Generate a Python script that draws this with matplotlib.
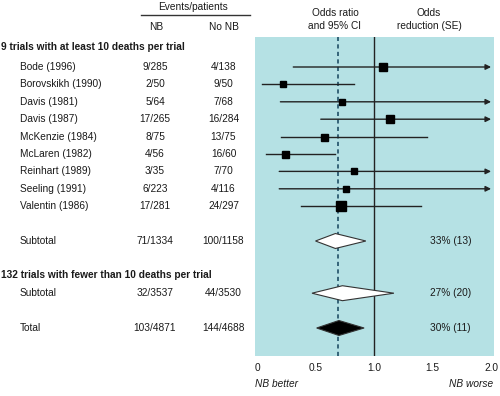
import matplotlib
matplotlib.use("Agg")
import matplotlib.pyplot as plt
from matplotlib.patches import Polygon
from matplotlib.transforms import blended_transform_factory

plt.rcParams['font.family'] = ['Liberation Sans', 'DejaVu Sans']

# ---- data ----
studies = ["Bode (1996)", "Borovskikh (1990)", "Davis (1981)", "Davis (1987)",
           "McKenzie (1984)", "McLaren (1982)", "Reinhart (1989)", "Seeling (1991)",
           "Valentin (1986)"]
nb_events = ["9/285", "2/50", "5/64", "17/265", "8/75", "4/56", "3/35", "6/223", "17/281"]
nonb_events = ["4/138", "9/50", "7/68", "16/284", "13/75", "16/60", "7/70", "4/116", "24/297"]
odds_ratio = [1.08, 0.22, 0.73, 1.14, 0.57, 0.24, 0.83, 0.76, 0.72]
ci_low = [0.31, 0.045, 0.20, 0.545, 0.205, 0.074, 0.19, 0.19, 0.376]
ci_high = [None, 0.83, None, None, 1.45, 0.667, None, None, 1.40]   # None = beyond 2.0 (arrow)
marker_px = [7.7, 6.7, 6.7, 8.7, 7.0, 7.0, 6.0, 5.7, 10.0]

summary_labels = ["Subtotal", "Subtotal", "Total"]
summary_nb = ["71/1334", "32/3537", "103/4871"]
summary_nonb = ["100/1158", "44/3530", "144/4688"]
summary_or = [0.67, 0.73, 0.70]
summary_low = [0.50, 0.47, 0.51]
summary_high = [0.93, 1.17, 0.915]
summary_red = ["33% (13)", "27% (20)", "30% (11)"]
summary_fill = ["white", "white", "black"]

pooled_or = 0.69
xticks = [0, 0.5, 1.0, 1.5, 2.0]
xticklabels = ["0", "0.5", "1.0", "1.5", "2.0"]

# ---- layout ----
W, H = 500, 396
fig = plt.figure(figsize=(W / 100, H / 100), dpi=100)
fig.patch.set_facecolor("white")

def fx(px):
    return px / W

top_px, bot_px = 37.3, 356.0
left_px, right_px = 255.0, 494.0
ax = fig.add_axes([fx(left_px), 1 - bot_px / H, fx(right_px - left_px), (bot_px - top_px) / H])
ax.set_facecolor("#b5e1e4")
for s in ax.spines.values():
    s.set_visible(False)
ax.set_xticks([])
ax.set_yticks([])

row0, rowh = 49.6, 17.4
def row(px):
    return (px - row0) / rowh

ax.set_xlim(-0.017, 2.025)
ax.set_ylim(row(bot_px), row(top_px))

tr = blended_transform_factory(fig.transFigure, ax.transData)
tc = "#1a1a1a"
fs = 7.3

study_rows = list(range(1, 10))
summary_rows = [11, 14, 16]

# reference lines
ax.axvline(1.0, color="#222222", lw=1.0, zorder=1)
ax.axvline(pooled_or, color="#1f4f66", lw=1.2, ls=(0, (2.5, 2)), zorder=1)

# study CIs and squares
for r, o, lo, hi, ms in zip(study_rows, odds_ratio, ci_low, ci_high, marker_px):
    if hi is None:
        ax.annotate("", xy=(2.0, r), xytext=(lo, r),
                    arrowprops=dict(arrowstyle="-|>", color="#222222", lw=1.0,
                                    mutation_scale=8, shrinkA=0, shrinkB=0),
                    zorder=3)
    else:
        ax.plot([lo, hi], [r, r], color="#222222", lw=1.0, zorder=3)
    ax.plot([o], [r], marker="s", ms=ms * 0.72, color="black", mec="black", zorder=4)

# diamonds
hh = 0.43
for r, o, lo, hi, fc in zip(summary_rows, summary_or, summary_low, summary_high, summary_fill):
    poly = Polygon([(lo, r), (o, r - hh), (hi, r), (o, r + hh)], closed=True,
                   facecolor=fc, edgecolor="#333333", lw=0.8, zorder=4)
    ax.add_patch(poly)

# odds reduction text
for r, t in zip(summary_rows, summary_red):
    ax.text(fx(430), r, t, transform=tr, fontsize=fs, color=tc, va="center", ha="left")

# left table
ax.text(fx(1), row(47), "9 trials with at least 10 deaths per trial", transform=tr,
        fontsize=fs, fontweight="bold", color=tc, va="center", ha="left", clip_on=False)
ax.text(fx(1), row(275), "132 trials with fewer than 10 deaths per trial", transform=tr,
        fontsize=fs, fontweight="bold", color=tc, va="center", ha="left", clip_on=False)
for r, name, a, b in zip(study_rows, studies, nb_events, nonb_events):
    ax.text(fx(20), r, name, transform=tr, fontsize=fs, color=tc, va="center", ha="left")
    ax.text(fx(155), r, a, transform=tr, fontsize=fs, color=tc, va="center", ha="center")
    ax.text(fx(223.5), r, b, transform=tr, fontsize=fs, color=tc, va="center", ha="center")
for r, name, a, b in zip(summary_rows, summary_labels, summary_nb, summary_nonb):
    ax.text(fx(20), r, name, transform=tr, fontsize=fs, color=tc, va="center", ha="left")
    ax.text(fx(155), r, a, transform=tr, fontsize=fs, color=tc, va="center", ha="center")
    ax.text(fx(223.5), r, b, transform=tr, fontsize=fs, color=tc, va="center", ha="center")

# headers
fig.text(fx(193), 1 - 7 / H, "Events/patients", fontsize=fs, color=tc, ha="center", va="center")
fig.add_artist(plt.Line2D([fx(141), fx(250)], [1 - 14.5 / H, 1 - 14.5 / H], color="#333333", lw=1.0))
fig.text(fx(156), 1 - 27 / H, "NB", fontsize=fs, color=tc, ha="center", va="center")
fig.text(fx(224), 1 - 27 / H, "No NB", fontsize=fs, color=tc, ha="center", va="center")
fig.text(fx(335), 1 - 12.5 / H, "Odds ratio", fontsize=fs, color=tc, ha="center", va="center")
fig.text(fx(335), 1 - 26 / H, "and 95% CI", fontsize=fs, color=tc, ha="center", va="center")
fig.text(fx(429), 1 - 12.5 / H, "Odds", fontsize=fs, color=tc, ha="center", va="center")
fig.text(fx(429), 1 - 26 / H, "reduction (SE)", fontsize=fs, color=tc, ha="center", va="center")

# x tick labels
ytick = row(368)
for v, lab in zip(xticks, xticklabels):
    ax.text(v, ytick, lab, fontsize=fs, color=tc, ha="center", va="center", clip_on=False)
ax.text(fx(255), row(384), "NB better", transform=tr, fontsize=fs, style="italic",
        color=tc, ha="left", va="center", clip_on=False)
ax.text(fx(493), row(384), "NB worse", transform=tr, fontsize=fs, style="italic",
        color=tc, ha="right", va="center", clip_on=False)

fig.savefig("out.png", dpi=100, facecolor="white")
